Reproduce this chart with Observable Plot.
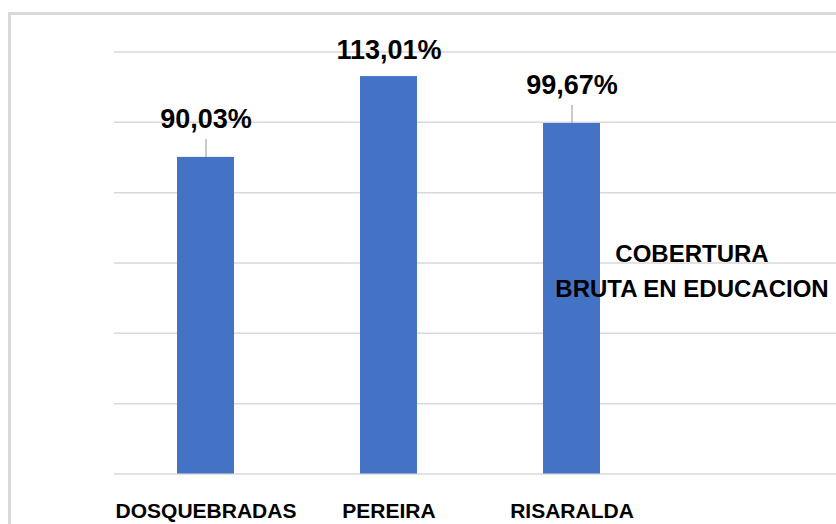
<!DOCTYPE html>
<html><head><meta charset="utf-8">
<script src="https://cdn.jsdelivr.net/npm/d3@7"></script>
<script src="https://cdn.jsdelivr.net/npm/@observablehq/plot@0.6"></script>
<style>
html,body{margin:0;padding:0;background:#fff;overflow:hidden}
#wrap{position:relative;width:836px;height:524px;font-family:"Liberation Sans",Arial,sans-serif}
#frame{position:absolute;left:8px;top:12px;width:900px;height:600px;border-left:3px solid #d9d9d9;border-top:3px solid #d9d9d9;box-sizing:border-box}
#chart{position:absolute;left:0;top:0}
#legend{position:absolute;left:492px;top:236px;width:400px;text-align:center;font-size:24px;font-weight:bold;line-height:35px;color:#000;white-space:nowrap}
</style></head><body>
<div id="wrap"><div id="frame"></div><div id="chart"></div><div id="legend"></div></div>
<script>
const categories = ["DOSQUEBRADAS", "PEREIRA", "RISARALDA"];
const values = [90.03, 113.01, 99.67];
const valueLabels = ["90,03%", "113,01%", "99,67%"];
const gridTicks = [0, 20, 40, 60, 80, 100, 120];
const legendLines = ["COBERTURA", "BRUTA EN EDUCACION"];

const data = categories.map((c, i) => ({category: c, value: values[i], label: valueLabels[i]}));
const movedLabels = data.filter((d, i) => i !== 1);
const plainLabels = data.filter((d, i) => i === 1);

const chart = Plot.plot({
  width: 836,
  height: 524,
  marginLeft: 114,
  marginRight: 0,
  marginTop: 51.5,
  marginBottom: 50.5,
  style: {background: "transparent", fontFamily: '"Liberation Sans", Arial, sans-serif', color: "#000", overflow: "visible"},
  x: {domain: categories, range: [114, 663], paddingInner: 0.69, paddingOuter: 0.345, label: null},
  y: {domain: [0, 120], axis: null},
  marks: [
    Plot.ruleY(gridTicks, {stroke: "#d9d9d9", strokeWidth: 1.5}),
    Plot.barY(data, {x: "category", y: "value", fill: "#4472c4"}),
    Plot.ruleX(movedLabels, {x: "category", y1: "value", y2: "value", insetTop: -18, stroke: "#a6a6a6", strokeWidth: 1.2}),
    Plot.text(movedLabels, {x: "category", y: "value", text: "label", lineAnchor: "bottom", dy: -29.5, fontSize: 27, fontWeight: "bold", fill: "#000"}),
    Plot.text(plainLabels, {x: "category", y: "value", text: "label", lineAnchor: "bottom", dy: -17.5, fontSize: 27, fontWeight: "bold", fill: "#000"}),
    Plot.axisX({tickSize: 0, tickPadding: 29, fontSize: 21, fontWeight: "bold", label: null})
  ]
});
document.getElementById("chart").appendChild(chart);
const legend = document.getElementById("legend");
legendLines.forEach((t, i) => {
  if (i) legend.appendChild(document.createElement("br"));
  legend.appendChild(document.createTextNode(t));
});
</script>
</body></html>
